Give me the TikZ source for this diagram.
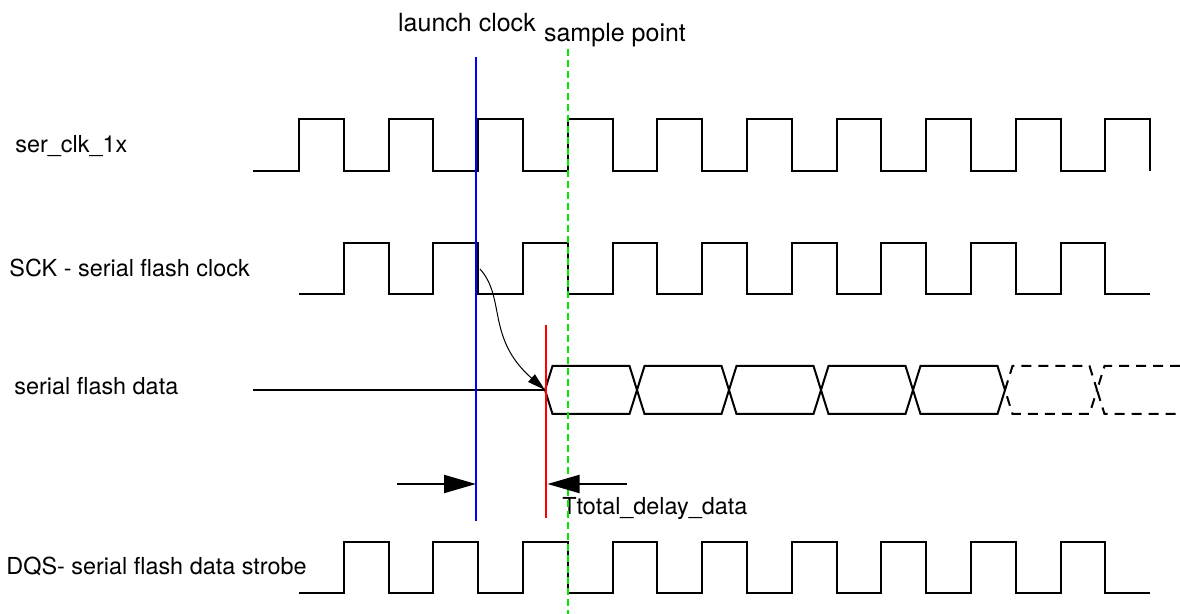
\documentclass[tikz,border=0pt]{standalone}
\usepackage{fontspec}
\setmainfont{TeX Gyre Heros}
\usetikzlibrary{arrows.meta}
\definecolor{samplegreen}{RGB}{0,235,0}

\begin{document}
\begin{tikzpicture}[x=0.5pt,y=-0.5pt,
    wave/.style={line width=1pt,line join=miter},
    busdash/.style={wave,dash pattern=on 5pt off 3.5pt},
    lbl/.style={inner sep=0pt,font=\fontsize{11.7}{14}\selectfont},
    toplbl/.style={inner sep=0pt,font=\fontsize{12.5}{15}\selectfont},
    bigarrow/.style={line width=1pt,-{Triangle[length=16pt,width=9pt]}}]
        \useasboundingbox (0,0) rectangle (1180,614);
        % signal names
        \node[lbl,anchor=base west] (clklbl) at (15,153) {ser\_clk\_1x};
        \node[lbl,anchor=base west] (scklbl) at (9,277) {SCK - serial flash clock};
        \node[lbl,anchor=base west] (datalbl) at (14,395) {serial flash data};
        \node[lbl,anchor=base east] (dqslbl) at (307,575) {DQS- serial flash data strobe};
        \node[toplbl,anchor=base] (launchlbl) at (467,32) {launch clock};
        \node[toplbl,anchor=base] (samplelbl) at (615,42) {sample point};
        \node[lbl,anchor=base west] (delaylbl) at (562,515) {Ttotal\_delay\_data};
        % ser_clk_1x
        \draw[wave] (253,171) -- (299,171)
            \foreach \i in {1,...,9} { -- ++(0,-52) -- ++(44.8,0) -- ++(0,52) -- ++(44.8,0) }
            -- ++(0,-52) -- ++(44.8,0) -- ++(0,52);
        % SCK
        \draw[wave] (299,294) -- (343.8,294)
            \foreach \i in {1,...,9} { -- ++(0,-51) -- ++(44.8,0) -- ++(0,51) -- ++(44.8,0) };
        % DQS
        \draw[wave] (299,593) -- (343.8,593)
            \foreach \i in {1,...,9} { -- ++(0,-51) -- ++(44.8,0) -- ++(0,51) -- ++(44.8,0) };
        % serial flash data
        \coordinate (datastart) at (545,390);
        \draw[wave] (253,390) -- (datastart);
        \foreach \c in {545,637,729,821,913}
            \draw[wave] (\c,390) -- (\c+7.5,366) -- (\c+84.5,366) -- (\c+92,390)
                -- (\c+84.5,414) -- (\c+7.5,414) -- cycle;
        \draw[busdash] (1005,390) -- (1012.5,366) -- (1089.5,366) -- (1097,390)
            -- (1089.5,414) -- (1012.5,414) -- cycle;
        \draw[busdash] (1180,366) -- (1104.5,366) -- (1097,390) -- (1104.5,414) -- (1180,414);
        % markers
        \draw[blue,line width=1pt] (476,57) coordinate (launchtop) -- (476,521) coordinate (launchbot);
        \draw[red,line width=1pt] (545.5,325) coordinate (datatop) -- (545.5,518) coordinate (databot);
        \draw[samplegreen,line width=1.1pt,dash pattern=on 3.5pt off 2pt] (568,49) coordinate (sampletop) -- (568,614) coordinate (samplebot);
        % launch edge to data
        \coordinate (sckedge) at (480,269);
        \draw[line width=0.5pt,-{Triangle[length=9pt,width=5pt]}] (sckedge) .. controls (506,298) and (486,338) .. (datastart);
        % delay arrows
        \coordinate (arrowL) at (397,484);
        \coordinate (arrowR) at (627,484);
        \draw[bigarrow] (arrowL) -- (launchbot |- arrowL);
        \draw[bigarrow] (arrowR) -- ([xshift=1pt]databot |- arrowR);
    \end{tikzpicture}
\end{document}
